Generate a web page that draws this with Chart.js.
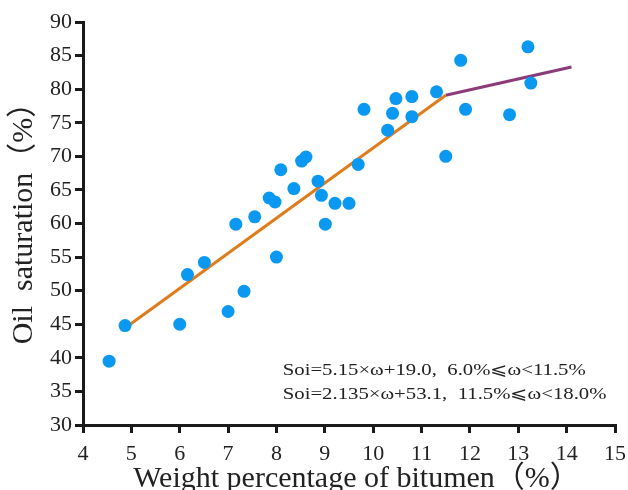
<!DOCTYPE html>
<html><head><meta charset="utf-8">
<script src="https://cdn.jsdelivr.net/npm/chart.js@4.4.1/dist/chart.umd.min.js"></script>
<style>html,body{margin:0;padding:0;background:#fff}#wrap{width:628px;height:490px}</style>
</head><body><div id="wrap"><canvas id="c" width="628" height="490"></canvas></div>
<script>
const bitumenX = [4.54,4.87,6.0,6.16,6.51,7.0,7.16,7.33,7.55,7.85,7.97,8.0,8.09,8.36,8.52,8.61,8.86,8.93,9.01,9.21,9.5,9.69,9.81,10.3,10.4,10.47,10.8,10.8,11.31,11.5,11.81,11.91,12.82,13.2,13.26];
const oilY =     [39.5,44.8,45.0,52.4,54.2,46.9,59.9,49.9,61.0,63.8,63.2,55.0,68.0,65.2,69.3,69.9,66.3,64.2,59.9,63.0,63.0,68.8,77.0,73.9,76.4,78.6,78.9,75.9,79.6,70.0,84.3,77.0,76.2,86.3,80.9];
const fit1X = [4.9, 11.5];
const fit1Y = [44.6, 79.1];
const fit2X = [11.5, 14.1];
const fit2Y = [79.1, 83.3];
const xTicks = [4,5,6,7,8,9,10,11,12,13,14,15];
const yTicks = [30,35,40,45,50,55,60,65,70,75,80,85,90];
const notes = ["Soi=5.15×ω+19.0,  6.0%⩽ω<11.5%", "Soi=2.135×ω+53.1,  11.5%⩽ω<18.0%"];

const serif = '"Liberation Serif", "Times New Roman", "Noto Sans CJK SC", serif';
const axisColor = '#1a1a1a';
const toPts = (xs, ys) => xs.map((x, i) => ({x, y: ys[i]}));

const notePlugin = {
  id: 'notes',
  afterDatasetsDraw(chart) {
    const ctx = chart.ctx;
    ctx.save();
    ctx.font = '17px ' + serif;
    ctx.fillStyle = '#222';
    ctx.textBaseline = 'alphabetic';
    const x0 = chart.scales.x.getPixelForValue(8.13);
    const stretch = 1.22;
    [[notes[0], 37.5], [notes[1], 33.9]].forEach(([t, yv]) => {
      ctx.save();
      ctx.translate(x0, chart.scales.y.getPixelForValue(yv));
      ctx.scale(stretch, 1);
      ctx.fillText(t, 0, 0);
      ctx.restore();
    });
    ctx.restore();
  }
};

new Chart(document.getElementById('c'), {
  type: 'scatter',
  data: {
    datasets: [
      {data: toPts(bitumenX, oilY), backgroundColor: '#0a98f0', borderWidth: 0, pointRadius: 6.5, pointHoverRadius: 6.5, order: 1},
      {type: 'line', data: toPts(fit1X, fit1Y), borderColor: '#df7c1c', borderWidth: 3, pointRadius: 0, fill: false, order: 2},
      {type: 'line', data: toPts(fit2X, fit2Y), borderColor: '#8a3b78', borderWidth: 3, pointRadius: 0, fill: false, order: 2}
    ]
  },
  options: {
    responsive: false,
    animation: false,
    layout: {padding: {top: 22, right: 13, left: 0, bottom: 0}},
    plugins: {legend: {display: false}, tooltip: {enabled: false}},
    scales: {
      x: {
        type: 'linear', min: 4, max: 15,
        afterBuildTicks: s => { s.ticks = xTicks.map(v => ({value: v})); },
        afterFit: s => { s.height = 65; s.paddingRight = 0; s.paddingLeft = 0; },
        border: {display: true, color: axisColor, width: 3},
        grid: {drawOnChartArea: false, drawTicks: true, tickLength: 8, lineWidth: 3, color: axisColor},
        ticks: {color: '#222', font: {family: serif, size: 22}, padding: 8, maxRotation: 0},
        title: {display: true, text: '\u2002Weight percentage of bitumen（%）', color: '#222', font: {family: serif, size: 30}, padding: {top: 0, bottom: -7}}
      },
      y: {
        type: 'linear', min: 30, max: 90,
        afterBuildTicks: s => { s.ticks = yTicks.map(v => ({value: v})); },
        afterFit: s => { s.width = 83; s.paddingTop = 0; s.paddingBottom = 0; },
        border: {display: true, color: axisColor, width: 3},
        grid: {drawOnChartArea: false, drawTicks: true, tickLength: 8, lineWidth: 3, color: axisColor},
        ticks: {color: '#222', font: {family: serif, size: 22}, padding: 3},
        title: {display: true, text: '\u2002Oil  saturation（%）', color: '#222', font: {family: serif, size: 30}, padding: {top: 6, bottom: 4}}
      }
    }
  },
  plugins: [notePlugin]
});
</script></body></html>
